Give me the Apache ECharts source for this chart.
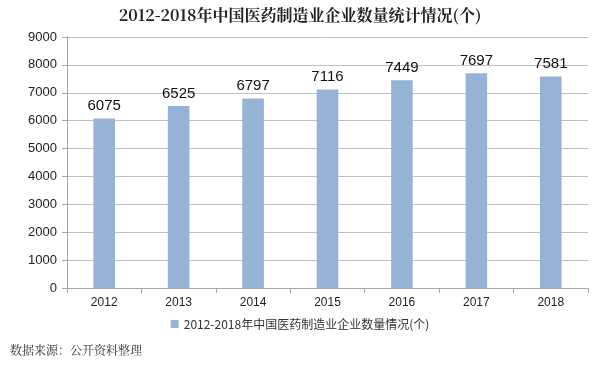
<!DOCTYPE html>
<html><head><meta charset="utf-8">
<script src="https://cdn.jsdelivr.net/npm/echarts@6/dist/echarts.min.js"></script>
<style>html,body{margin:0;padding:0;background:#fff}#c{width:600px;height:367px}</style>
</head><body><div id="c"></div>
<script>
const categories = ['2012','2013','2014','2015','2016','2017','2018'];
const values = [6075, 6525, 6797, 7116, 7449, 7697, 7581];
const seriesName = '2012-2018年中国医药制造业企业数量情况(个)';
const titleText = '2012-2018年中国医药制造业企业数量统计情况(个)';
const sourceText = '数据来源：公开资料整理';

const chart = echarts.init(document.getElementById('c'), null, {renderer:'canvas'});
chart.setOption({
  animation:false,
  title:{text:titleText,left:'center',top:2,textStyle:{fontFamily:'"Noto Serif CJK SC","Noto Sans CJK SC",serif',fontSize:16,fontWeight:'bold',color:'#222'}},
  graphic:[{type:'text',left:10,top:344,style:{text:sourceText,fontSize:12,fill:'#333',fontFamily:'"Noto Serif CJK SC","Noto Sans CJK SC",serif'}}],
  legend:{bottom:32,left:'center',itemWidth:8,itemHeight:8,icon:'rect',itemGap:4,textStyle:{fontSize:12,color:'#333',fontFamily:'"Noto Sans CJK SC",sans-serif'}},
  grid:{left:67,right:12,top:37,bottom:79},
  xAxis:{type:'category',data:categories,axisLine:{lineStyle:{color:'#a6a6a6'}},axisTick:{show:true,length:5,lineStyle:{color:'#a6a6a6'}},axisLabel:{color:'#222',fontSize:12,margin:9}},
  yAxis:{type:'value',min:0,max:9000,interval:1000,axisLine:{show:true,lineStyle:{color:'#a6a6a6'}},axisTick:{show:true,length:5,lineStyle:{color:'#a6a6a6'}},splitLine:{lineStyle:{color:'#bfbfbf'}},axisLabel:{color:'#222',fontSize:13,margin:10,formatter:v=>String(v)}},
  series:[{name:seriesName,type:'bar',data:values,barWidth:'29%',itemStyle:{color:'#95b3d7'},label:{show:true,position:'top',color:'#111',fontSize:15,distance:5}}]
});
</script></body></html>
